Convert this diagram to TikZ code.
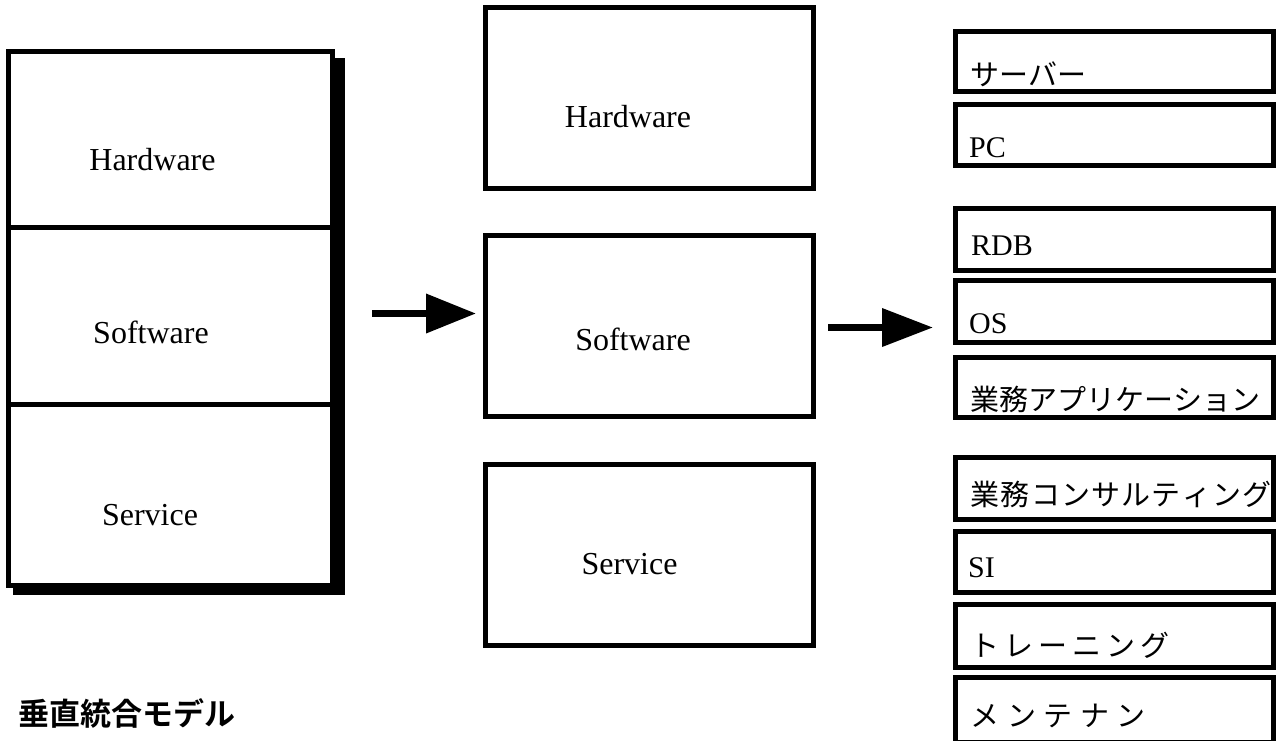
\documentclass[tikz,border=0pt]{standalone}
\usepackage{fontspec}
\setmainfont{Liberation Serif}
\newfontfamily\jpfont{Noto Sans CJK JP}[BoldFont=* Bold]
\usetikzlibrary{arrows.meta}

\tikzset{
  panel/.style={draw, line width=5pt, fill=white, inner sep=0pt},
  layertext/.style={inner sep=0pt, anchor=base, font=\fontsize{32}{38}\selectfont},
  itembox/.style={draw, line width=5pt, fill=white, inner sep=0pt, minimum width=318pt},
  itemlat/.style={inner sep=0pt, anchor=base west, font=\fontsize{30}{36}\selectfont},
  itemjp/.style={inner sep=0pt, anchor=base west, font=\jpfont\fontsize{29}{35}\selectfont},
  bigarrow/.style={line width=7pt, -{Triangle[length=50pt,width=38pt]}},
}

\begin{document}
\begin{tikzpicture}[x=1pt, y=-1pt]
\useasboundingbox (0,0) rectangle (1281,740);

% left column: stacked layers with a drop shadow
\fill[black] (13,58) rectangle (345,595);
\node[panel, minimum width=324pt, minimum height=175.5pt] (lhw) at (170.5,139.25) {};
\node[panel, minimum width=324pt, minimum height=177pt]   (lsw) at (170.5,315.5) {};
\node[panel, minimum width=324pt, minimum height=181.5pt] (lsv) at (170.5,494.75) {};
\node[layertext] (lhwt) at (152.5,170) {Hardware};
\node[layertext] (lswt) at (151,343) {Software};
\node[layertext] (lsvt) at (150,525) {Service};

% middle column: separated layers
\node[panel, minimum width=328pt, minimum height=181pt] (mhw) at (649.5,98) {};
\node[panel, minimum width=328pt, minimum height=181pt] (msw) at (649.5,326) {};
\node[panel, minimum width=328pt, minimum height=181pt] (msv) at (649.5,555) {};
\node[layertext] (mhwt) at (628,127) {Hardware};
\node[layertext] (mswt) at (633,350) {Software};
\node[layertext] (msvt) at (629.5,574) {Service};

% right column: product and service items
\node[itembox, minimum height=60pt] (r1) at (1114.5,61.5) {};
\node[itembox, minimum height=61pt] (r2) at (1114.5,135) {};
\node[itembox, minimum height=62pt] (r3) at (1114.5,239.5) {};
\node[itembox, minimum height=62pt] (r4) at (1114.5,311.5) {};
\node[itembox, minimum height=60pt] (r5) at (1114.5,387.5) {};
\node[itembox, minimum height=62pt] (r6) at (1114.5,488.5) {};
\node[itembox, minimum height=61pt] (r7) at (1114.5,562) {};
\node[itembox, minimum height=63pt] (r8) at (1114.5,636) {};
\node[itembox, minimum height=65pt] (r9) at (1114.5,710) {};

\node[itemjp]  (r1t) at (970.5,85)  {サーバー};
\node[itemlat] (r2t) at (969,157)   {PC};
\node[itemlat] (r3t) at (971,255)   {RDB};
\node[itemlat] (r4t) at (969,333)   {OS};
\node[itemjp]  (r5t) at (970.5,410) {業務アプリケーション};
\node[itemjp]  (r6t) at (970.5,505) {業\kern1.2pt務\kern1.2ptコ\kern1.2ptン\kern1.2ptサ\kern1.2ptル\kern1.2ptテ\kern1.2ptィ\kern1.2ptン\kern1.2ptグ};
\node[itemlat] (r7t) at (968,577)   {SI};
\node[itemjp]  (r8t) at (970.5,656) {ト\kern5ptレ\kern5pt ー\kern5ptニ\kern5ptン\kern5ptグ};
\node[itemjp]  (r9t) at (970.5,726) {メ\kern7.5ptン\kern7.5ptテ\kern7.5ptナ\kern7.5ptン};

% arrows between the columns
\coordinate (a1) at (372,313.5);
\coordinate (a2) at (828,327.5);
\draw[bigarrow, shorten >=7pt] (a1) -- (a1 -| msw.west);
\draw[bigarrow, -{Triangle[length=51pt,width=37pt]}, shorten >=20pt] (a2) -- (a2 -| r4.west);

% caption
\node[inner sep=0pt, anchor=base west, font=\jpfont\bfseries\fontsize{31}{37}\selectfont] (title) at (18.5,725) {垂直統合モデル};
\end{tikzpicture}
\end{document}
